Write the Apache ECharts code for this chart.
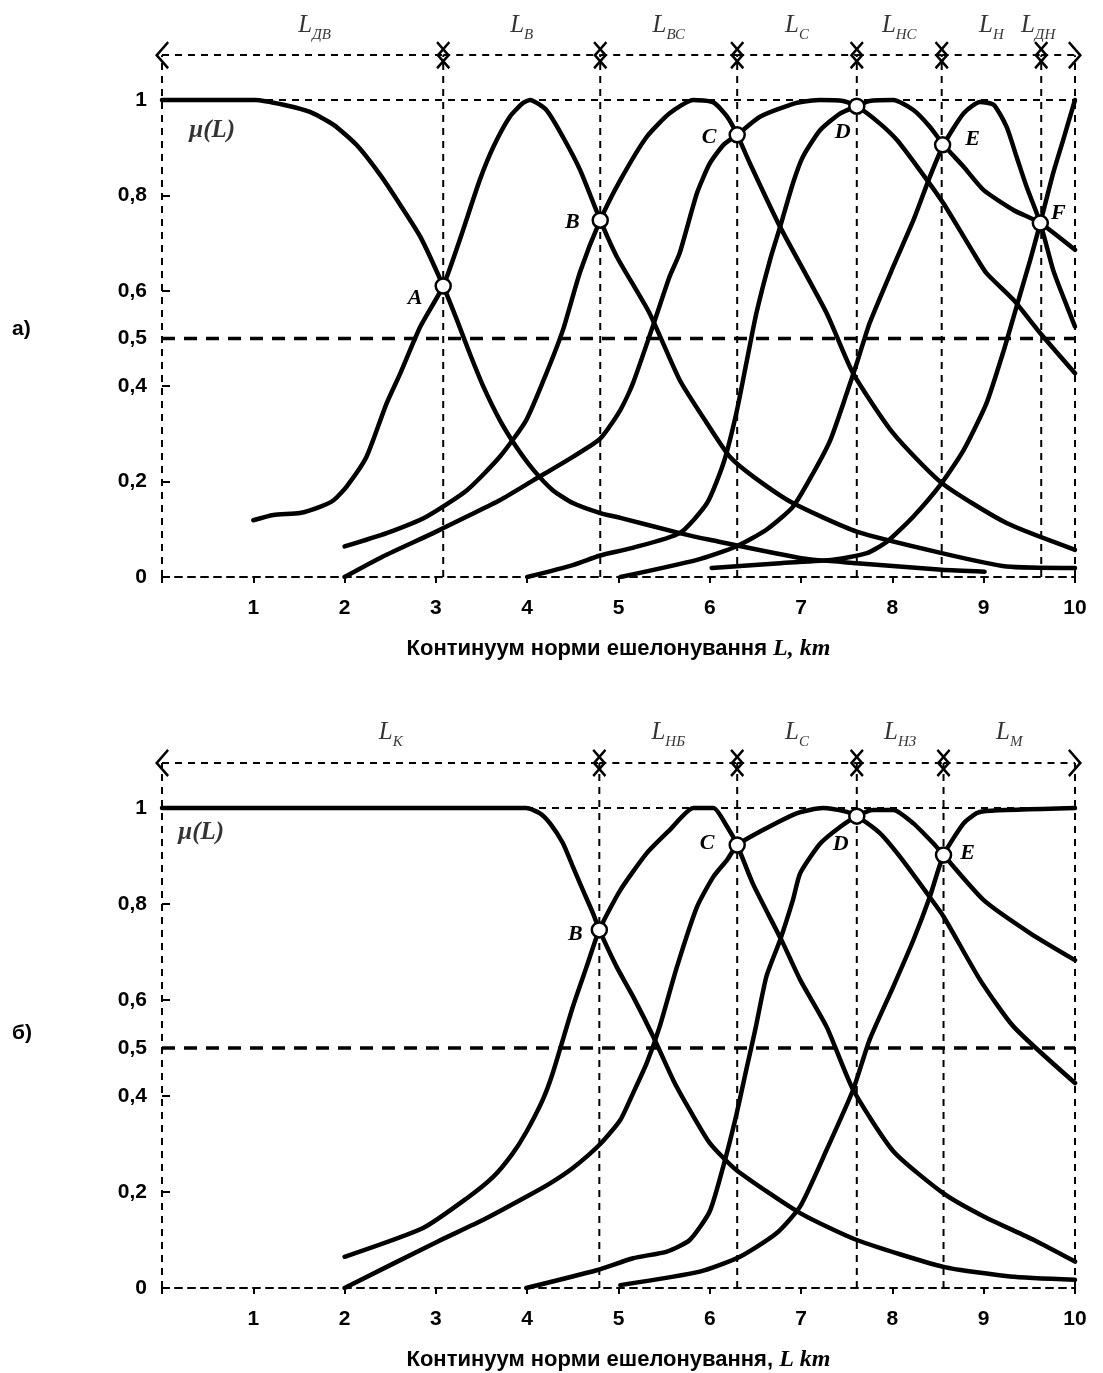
<!DOCTYPE html>
<html>
<head>
<meta charset="utf-8">
<script src="https://cdn.jsdelivr.net/npm/echarts@6/dist/echarts.min.js"></script>
<style>
html, body { margin: 0; padding: 0; background: #fff; }
#chart { width: 1103px; height: 1373px; }
</style>
</head>
<body>
<div id="chart"></div>
<script>
const SANS = '"Liberation Sans", Arial, sans-serif';
const SERIF = '"Liberation Serif", "Times New Roman", serif';

// ticks
const xTickValues = [0, 1, 2, 3, 4, 5, 6, 7, 8, 9, 10];
const xLabelValues = [1, 2, 3, 4, 5, 6, 7, 8, 9, 10];
const yTickValues = [0, 0.2, 0.4, 0.5, 0.6, 0.8, 1];

// ---- а) seven sets
const boundsA = [0, 3.08, 4.8, 6.3, 7.61, 8.54, 9.63, 10];
const setsA = ['ДВ', 'В', 'ВС', 'С', 'НС', 'Н', 'ДН'];
const pointNamesA = ['A', 'B', 'C', 'D', 'E', 'F'];
const pointXA = [3.08, 4.8, 6.3, 7.61, 8.55, 9.62];
const pointYA = [0.61, 0.748, 0.927, 0.987, 0.906, 0.742];

const dvX = [0, 1.02, 1.33, 1.62, 1.88, 2.13, 2.39, 2.61, 2.83, 3.08, 3.23, 3.37, 3.52, 3.70, 3.88, 4.07, 4.28, 4.50, 4.80, 5.02, 5.67, 6.0, 7.02, 7.61, 8.54, 9.01];
const dvY = [1, 1, 0.99, 0.975, 0.948, 0.906, 0.843, 0.78, 0.713, 0.61, 0.539, 0.469, 0.399, 0.329, 0.273, 0.224, 0.182, 0.155, 0.134, 0.124, 0.092, 0.078, 0.039, 0.029, 0.015, 0.011];
const vX = [1.0, 1.22, 1.51, 1.73, 1.88, 2.02, 2.24, 2.46, 2.61, 2.83, 3.08, 3.26, 3.48, 3.63, 3.81, 3.95, 4.03, 4.21, 4.39, 4.58, 4.8, 4.98, 5.34, 5.67, 5.97, 6.22, 6.48, 6.91, 7.61, 8.54, 9.25, 10];
const vY = [0.119, 0.13, 0.134, 0.147, 0.161, 0.189, 0.252, 0.364, 0.427, 0.525, 0.61, 0.706, 0.832, 0.902, 0.965, 0.993, 1.0, 0.979, 0.923, 0.853, 0.748, 0.672, 0.553, 0.413, 0.322, 0.252, 0.21, 0.155, 0.095, 0.05, 0.022, 0.019];
const vsX = [2.0, 2.46, 2.9, 3.34, 3.7, 3.99, 4.21, 4.39, 4.58, 4.8, 5.02, 5.31, 5.56, 5.82, 6.04, 6.19, 6.3, 6.44, 6.77, 7.28, 7.57, 8.01, 8.54, 9.25, 10];
const vsY = [0.064, 0.092, 0.127, 0.182, 0.252, 0.329, 0.427, 0.517, 0.64, 0.748, 0.832, 0.923, 0.972, 1.0, 0.995, 0.965, 0.927, 0.867, 0.734, 0.553, 0.427, 0.301, 0.197, 0.113, 0.057];
const sX = [2.0, 2.42, 2.97, 3.34, 3.7, 4.07, 4.5, 4.8, 5.02, 5.16, 5.38, 5.56, 5.67, 5.86, 6.0, 6.15, 6.3, 6.55, 6.95, 7.21, 7.46, 7.61, 7.86, 8.05, 8.3, 8.56, 8.89, 9.03, 9.33, 9.62, 10];
const sY = [0, 0.043, 0.092, 0.127, 0.161, 0.203, 0.252, 0.29, 0.35, 0.407, 0.528, 0.63, 0.679, 0.805, 0.867, 0.906, 0.927, 0.965, 0.994, 1.0, 0.998, 0.987, 0.951, 0.916, 0.853, 0.783, 0.679, 0.637, 0.58, 0.511, 0.427];
const nsX = [4.0, 4.5, 4.8, 5.13, 5.67, 5.97, 6.15, 6.29, 6.4, 6.51, 6.66, 6.77, 6.91, 7.02, 7.21, 7.43, 7.61, 7.75, 8.01, 8.23, 8.41, 8.56, 8.78, 9.0, 9.33, 9.62, 10];
const nsY = [0, 0.025, 0.045, 0.06, 0.092, 0.155, 0.239, 0.343, 0.448, 0.553, 0.665, 0.734, 0.825, 0.881, 0.937, 0.972, 0.987, 0.998, 1.0, 0.979, 0.944, 0.906, 0.86, 0.811, 0.769, 0.742, 0.686];
const nX = [5.02, 5.86, 6.29, 6.62, 6.91, 7.13, 7.32, 7.5, 7.61, 7.75, 8.01, 8.23, 8.41, 8.56, 8.78, 8.96, 9.11, 9.25, 9.36, 9.47, 9.62, 9.76, 9.87, 10];
const nY = [0, 0.036, 0.064, 0.099, 0.147, 0.217, 0.287, 0.385, 0.448, 0.532, 0.651, 0.748, 0.839, 0.906, 0.972, 0.996, 0.99, 0.944, 0.881, 0.818, 0.742, 0.644, 0.588, 0.525];
const dnX = [6.02, 6.77, 7.35, 7.72, 7.94, 8.23, 8.54, 8.78, 9.03, 9.21, 9.36, 9.51, 9.62, 9.76, 9.87, 10];
const dnY = [0.019, 0.029, 0.036, 0.05, 0.074, 0.127, 0.197, 0.266, 0.364, 0.469, 0.567, 0.665, 0.742, 0.846, 0.916, 1.0];

// ---- б) five sets
const boundsB = [0, 4.79, 6.3, 7.61, 8.56, 10];
const setsB = ['К', 'НБ', 'С', 'НЗ', 'М'];
const pointNamesB = ['B', 'C', 'D', 'E'];
const pointXB = [4.79, 6.3, 7.61, 8.56];
const pointYB = [0.746, 0.923, 0.983, 0.902];

const kX = [0, 3.99, 4.14, 4.25, 4.39, 4.5, 4.61, 4.72, 4.79, 4.98, 5.16, 5.38, 5.6, 5.78, 6.0, 6.29, 6.99, 7.61, 8.56, 9.29, 10];
const kY = [1, 1, 0.989, 0.968, 0.927, 0.878, 0.829, 0.781, 0.746, 0.669, 0.607, 0.524, 0.433, 0.371, 0.302, 0.246, 0.156, 0.1, 0.044, 0.024, 0.017];
const nbX = [2.0, 2.86, 3.34, 3.63, 3.84, 3.99, 4.17, 4.28, 4.5, 4.65, 4.79, 5.02, 5.31, 5.56, 5.82, 6.04, 6.19, 6.3, 6.47, 6.8, 6.99, 7.28, 7.57, 8.01, 8.56, 9.0, 9.55, 10];
const nbY = [0.065, 0.125, 0.187, 0.232, 0.28, 0.325, 0.392, 0.448, 0.586, 0.669, 0.746, 0.829, 0.906, 0.954, 1.0, 1.0, 0.961, 0.923, 0.843, 0.719, 0.642, 0.544, 0.413, 0.285, 0.197, 0.149, 0.1, 0.055];
const sbX = [2.0, 3.01, 3.52, 3.99, 4.25, 4.5, 4.8, 5.02, 5.16, 5.31, 5.45, 5.64, 5.86, 6.04, 6.19, 6.3, 6.55, 6.95, 7.24, 7.5, 7.61, 7.86, 8.08, 8.38, 8.56, 8.96, 9.33, 10];
const sbY = [0.0, 0.096, 0.142, 0.19, 0.218, 0.25, 0.3, 0.35, 0.406, 0.469, 0.544, 0.669, 0.794, 0.857, 0.892, 0.923, 0.951, 0.989, 1.0, 0.992, 0.983, 0.948, 0.899, 0.822, 0.774, 0.642, 0.544, 0.427];
const nzX = [3.99, 4.76, 5.16, 5.53, 5.78, 6.0, 6.15, 6.29, 6.4, 6.5, 6.62, 6.77, 6.91, 6.99, 7.21, 7.43, 7.61, 7.79, 8.01, 8.23, 8.45, 8.56, 9.0, 9.51, 10];
const nzY = [0.0, 0.037, 0.062, 0.076, 0.1, 0.16, 0.255, 0.36, 0.455, 0.54, 0.649, 0.725, 0.808, 0.864, 0.926, 0.961, 0.983, 0.996, 0.996, 0.968, 0.926, 0.902, 0.808, 0.739, 0.683];
const mX = [5.02, 5.89, 6.33, 6.73, 6.99, 7.28, 7.57, 7.75, 8.01, 8.23, 8.41, 8.56, 8.78, 8.92, 9.03, 10];
const mY = [0.006, 0.034, 0.065, 0.114, 0.17, 0.288, 0.413, 0.517, 0.628, 0.725, 0.815, 0.902, 0.968, 0.989, 0.994, 1.0];

const ARROW_Y = 1.094;  // level of the dashed arrows
const LABEL_Y = 1.152;  // level of the L-labels
// open chevron pointing up, markLine rotates it along the line
const CHEV = 'path://M0,10L10,0L20,10L18.6,11.4L10,2.8L1.4,11.4Z';

const zip = (xs, ys) => xs.map((x, i) => [x, ys[i]]);

function curve(idx, xs, ys) {
    return {
        type: 'line', xAxisIndex: idx, yAxisIndex: idx, silent: true,
        data: zip(xs, ys), smooth: 0.2,
        symbol: 'none', showSymbol: false, z: 5,
        lineStyle: { color: '#000', width: 4.5, cap: 'round', join: 'round' }
    };
}

function guide(idx, pts, width, dash) {
    return {
        type: 'line', xAxisIndex: idx, yAxisIndex: idx, silent: true,
        data: pts, symbol: 'none', z: 2,
        lineStyle: { color: '#000', width: width, type: dash }
    };
}

function buildSeries(idx, curves, bounds, sets, names, px, py, shifts, mu, setShift) {
    const list = curves.map(c => curve(idx, c[0], c[1]));
    // vertical boundaries (incl. y axis and right edge)
    bounds.forEach(b => list.push(guide(idx, [[b, 0], [b, ARROW_Y]], 2, [7, 6])));
    list.push(guide(idx, [[0, 1], [10, 1]], 2, [7, 6]));
    list.push(guide(idx, [[0, 0.5], [10, 0.5]], 3.5, [13, 9]));
    // L labels + arrows
    list.push({
        type: 'scatter', xAxisIndex: idx, yAxisIndex: idx, silent: true, symbolSize: 0,
        data: sets.map((s, i) => {
            const item = { name: s, value: [(bounds[i] + bounds[i + 1]) / 2, LABEL_Y] };
            if (setShift[s]) item.label = { offset: setShift[s] };
            return item;
        }),
        label: {
            show: true, position: 'inside',
            formatter: p => '{l|L}{s|' + p.name + '}',
            rich: {
                l: { fontFamily: SERIF, fontStyle: 'italic', fontSize: 25, color: '#000', lineHeight: 30, verticalAlign: 'top' },
                s: { fontFamily: SERIF, fontStyle: 'italic', fontSize: 15, color: '#000', lineHeight: 15, verticalAlign: 'bottom' }
            }
        },
        markLine: {
            silent: true, animation: false,
            symbol: [CHEV, CHEV], symbolSize: [28, 14],
            lineStyle: { color: '#000', width: 2, type: [7, 6] },
            label: { show: false },
            data: bounds.slice(0, -1).map((b, i) => [{ coord: [b, ARROW_Y] }, { coord: [bounds[i + 1], ARROW_Y] }])
        }
    });
    // crossing points
    list.push({
        type: 'scatter', xAxisIndex: idx, yAxisIndex: idx, silent: true, z: 10,
        symbol: 'circle', symbolSize: 15,
        itemStyle: { color: '#fff', borderColor: '#000', borderWidth: 2.5, opacity: 1 },
        data: names.map((n, i) => ({ name: n, value: [px[i], py[i]], label: { offset: shifts[n] } })),
        label: {
            show: true, position: 'inside', formatter: '{b}', color: '#000',
            fontFamily: SERIF, fontStyle: 'italic', fontWeight: 'bold', fontSize: 22
        }
    });
    // μ(L)
    list.push({
        type: 'scatter', xAxisIndex: idx, yAxisIndex: idx, silent: true, symbolSize: 0,
        data: [{ value: mu }],
        label: {
            show: true, position: 'inside', formatter: '{m|μ}{m|(L)}',
            rich: { m: { fontFamily: SERIF, fontStyle: 'italic', fontWeight: 'bold', fontSize: 25, color: '#000' } }
        }
    });
    return list;
}

function xAxisOf(idx, name) {
    return {
        gridIndex: idx, type: 'value', min: 0, max: 10,
        axisLine: { show: true, onZero: false, lineStyle: { color: '#000', width: 2, type: [7, 6] } },
        axisTick: { show: true, customValues: xTickValues, length: 6, lineStyle: { color: '#000', width: 2 } },
        axisLabel: { customValues: xLabelValues, margin: 21, color: '#000', fontFamily: SANS, fontWeight: 'bold', fontSize: 21 },
        splitLine: { show: false },
        name: name, nameLocation: 'middle', nameGap: 60,
        nameTextStyle: {
            fontFamily: SANS, fontWeight: 'bold', fontSize: 22, color: '#000',
            rich: { i: { fontFamily: SERIF, fontStyle: 'italic', fontWeight: 'bold', fontSize: 24, color: '#000' } }
        }
    };
}

function yAxisOf(idx) {
    return {
        gridIndex: idx, type: 'value', min: 0, max: 1.2,
        axisLine: { show: false },
        axisTick: { show: true, customValues: yTickValues, inside: true, length: 8, lineStyle: { color: '#000', width: 2 } },
        axisLabel: {
            customValues: yTickValues, margin: 15, color: '#000', fontFamily: SANS, fontWeight: 'bold', fontSize: 21,
            formatter: v => (v === 0 || v === 1) ? String(v) : v.toFixed(1).replace('.', ',')
        },
        splitLine: { show: false }
    };
}

const chart = echarts.init(document.getElementById('chart'));
const series = [].concat(
    buildSeries(0, [[dvX, dvY], [vX, vY], [vsX, vsY], [sX, sY], [nsX, nsY], [nX, nY], [dnX, dnY]],
        boundsA, setsA, pointNamesA, pointXA, pointYA,
        { A: [-28, 12], B: [-28, 2], C: [-28, 2], D: [-14, 26], E: [30, -6], F: [18, -10] },
        [0.55, 0.935], { 'ДВ': [12, 0], 'ДН': [-20, 0] }),
    buildSeries(1, [[kX, kY], [nbX, nbY], [sbX, sbY], [nzX, nzY], [mX, mY]],
        boundsB, setsB, pointNamesB, pointXB, pointYB,
        { B: [-24, 4], C: [-30, -2], D: [-16, 28], E: [24, -2] },
        [0.43, 0.948], { 'К': [10, 0] })
);

chart.setOption({
    animation: false,
    backgroundColor: '#fff',
    grid: [
        { left: 162, top: 4.6, width: 913, height: 572.4 },
        { left: 162, top: 712, width: 913, height: 576 }
    ],
    xAxis: [
        xAxisOf(0, 'Континуум норми ешелонування {i|L, km}'),
        xAxisOf(1, 'Континуум норми ешелонування, {i|L km}')
    ],
    yAxis: [yAxisOf(0), yAxisOf(1)],
    graphic: [
        { type: 'text', left: 12, top: 319, style: { text: 'а)', fontFamily: SANS, fontWeight: 'bold', fontSize: 21, fill: '#000' } },
        { type: 'text', left: 12, top: 1023, style: { text: 'б)', fontFamily: SANS, fontWeight: 'bold', fontSize: 21, fill: '#000' } }
    ],
    series: series
});
</script>
</body>
</html>
